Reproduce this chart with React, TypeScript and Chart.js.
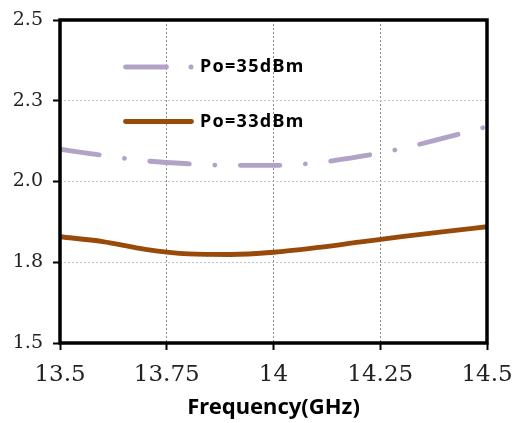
import React, { useEffect, useRef } from "react";
import { Chart, registerables } from "chart.js";

Chart.register(...registerables);

// ---- data ----
const frequencies = [13.5, 13.6, 13.7, 13.8, 13.9, 14.0, 14.1, 14.2, 14.3, 14.4, 14.5];
const po35 = [2.1, 2.081, 2.064, 2.055, 2.05, 2.05, 2.058, 2.077, 2.102, 2.135, 2.17];
const po33 = [1.829, 1.814, 1.79, 1.776, 1.774, 1.781, 1.795, 1.812, 1.829, 1.845, 1.86];
const seriesNames = ["Po=35dBm", "Po=33dBm"];
const xTicks = [13.5, 13.75, 14, 14.25, 14.5];
const yTicks = [1.5, 1.75, 2.0, 2.25, 2.5];
const xTitle = "Frequency(GHz)";

const PURPLE = "#b3a2c7";
const BROWN = "#9a4a08";

const legendPlugin = {
  id: "insideLegend",
  afterDatasetsDraw(chart: any) {
    const { ctx, chartArea: a } = chart;
    ctx.save();
    ctx.lineCap = "round";
    ctx.lineWidth = 4.8;
    // Po=35 sample
    const y1 = a.top + 47;
    ctx.strokeStyle = PURPLE;
    ctx.beginPath();
    ctx.moveTo(a.left + 65.5, y1);
    ctx.lineTo(a.left + 106.5, y1);
    ctx.stroke();
    ctx.fillStyle = PURPLE;
    ctx.beginPath();
    ctx.arc(a.left + 131, y1, 2.5, 0, Math.PI * 2);
    ctx.fill();
    // Po=33 sample
    const y2 = a.top + 101.5;
    ctx.strokeStyle = BROWN;
    ctx.beginPath();
    ctx.moveTo(a.left + 65.5, y2);
    ctx.lineTo(a.left + 131.5, y2);
    ctx.stroke();
    // texts
    ctx.fillStyle = "#000";
    ctx.font = "bold 18px 'Noto Sans'";
    try {
      (ctx as any).letterSpacing = "1.3px";
    } catch (e) {}
    ctx.textAlign = "left";
    ctx.textBaseline = "middle";
    ctx.fillText(seriesNames[0], a.left + 140, y1);
    ctx.fillText(seriesNames[1], a.left + 140, y2);
    ctx.restore();
  },
};

const framePlugin = {
  id: "frame",
  afterDraw(chart: any) {
    const { ctx, chartArea: a } = chart;
    ctx.save();
    ctx.strokeStyle = "#000";
    ctx.lineWidth = 3.5;
    ctx.strokeRect(a.left, a.top, a.right - a.left, a.bottom - a.top);
    ctx.restore();
  },
};

export default function App() {
  const ref = useRef<HTMLCanvasElement>(null);

  useEffect(() => {
    if (!ref.current) return;
    const chart = new Chart(ref.current, {
      type: "line",
      data: {
        datasets: [
          {
            label: seriesNames[0],
            data: frequencies.map((f, i) => ({ x: f, y: po35[i] })),
            borderColor: PURPLE,
            borderWidth: 4.8,
            borderDash: [39.6, 25.5, 0.01, 25.5],
            borderCapStyle: "round",
            pointRadius: 0,
            tension: 0.4,
            cubicInterpolationMode: "monotone",
          },
          {
            label: seriesNames[1],
            data: frequencies.map((f, i) => ({ x: f, y: po33[i] })),
            borderColor: BROWN,
            borderWidth: 4.8,
            borderCapStyle: "round",
            pointRadius: 0,
            tension: 0.4,
            cubicInterpolationMode: "monotone",
          },
        ],
      },
      options: {
        animation: false,
        responsive: false,
        maintainAspectRatio: false,
        layout: { padding: { top: 20, right: 29, left: 0, bottom: 0 } },
        plugins: { legend: { display: false }, tooltip: { enabled: false } },
        scales: {
          x: {
            type: "linear",
            min: 13.5,
            max: 14.5,
            afterBuildTicks: (s: any) => {
              s.ticks = xTicks.map((v) => ({ value: v }));
            },
            afterFit: (s: any) => {
              s.height = 80;
              s.paddingLeft = 0;
              s.paddingRight = 0;
            },
            ticks: {
              callback: (v: any) => String(v),
              font: { family: "'DejaVu Serif'", size: 23 },
              color: "#222",
              padding: 11,
              maxRotation: 0,
              autoSkip: false,
            },
            grid: {
              color: "#8a8a8a",
              lineWidth: 1,
              tickLength: 7,
              tickColor: "#000",
              tickWidth: 2,
              tickBorderDash: [],
            },
            border: { display: false, dash: [2, 2] },
            title: {
              display: true,
              text: xTitle,
              font: { family: "'Noto Sans'", weight: "bold", size: 22 },
              color: "#000",
              padding: { top: 0, bottom: 2 },
            },
          },
          y: {
            type: "linear",
            min: 1.5,
            max: 2.5,
            afterBuildTicks: (s: any) => {
              s.ticks = yTicks.map((v) => ({ value: v }));
            },
            afterFit: (s: any) => {
              s.width = 60;
              s.paddingTop = 0;
              s.paddingBottom = 0;
            },
            ticks: {
              callback: (v: any) => Number(v).toFixed(1),
              font: { family: "'DejaVu Serif'", size: 19 },
              color: "#222",
              padding: 10,
            },
            grid: {
              color: "#c4c4c4",
              lineWidth: 1,
              tickLength: 7,
              tickColor: "#000",
              tickWidth: 2,
              tickBorderDash: [],
            },
            border: { display: false, dash: [2, 2] },
          },
        },
      },
      plugins: [legendPlugin, framePlugin],
    } as any);
    return () => chart.destroy();
  }, []);

  return (
    <div style={{ position: "absolute", left: 0, top: 0, width: 516, height: 423, background: "#fff" }}>
      <canvas ref={ref} width={516} height={423} />
    </div>
  );
}
